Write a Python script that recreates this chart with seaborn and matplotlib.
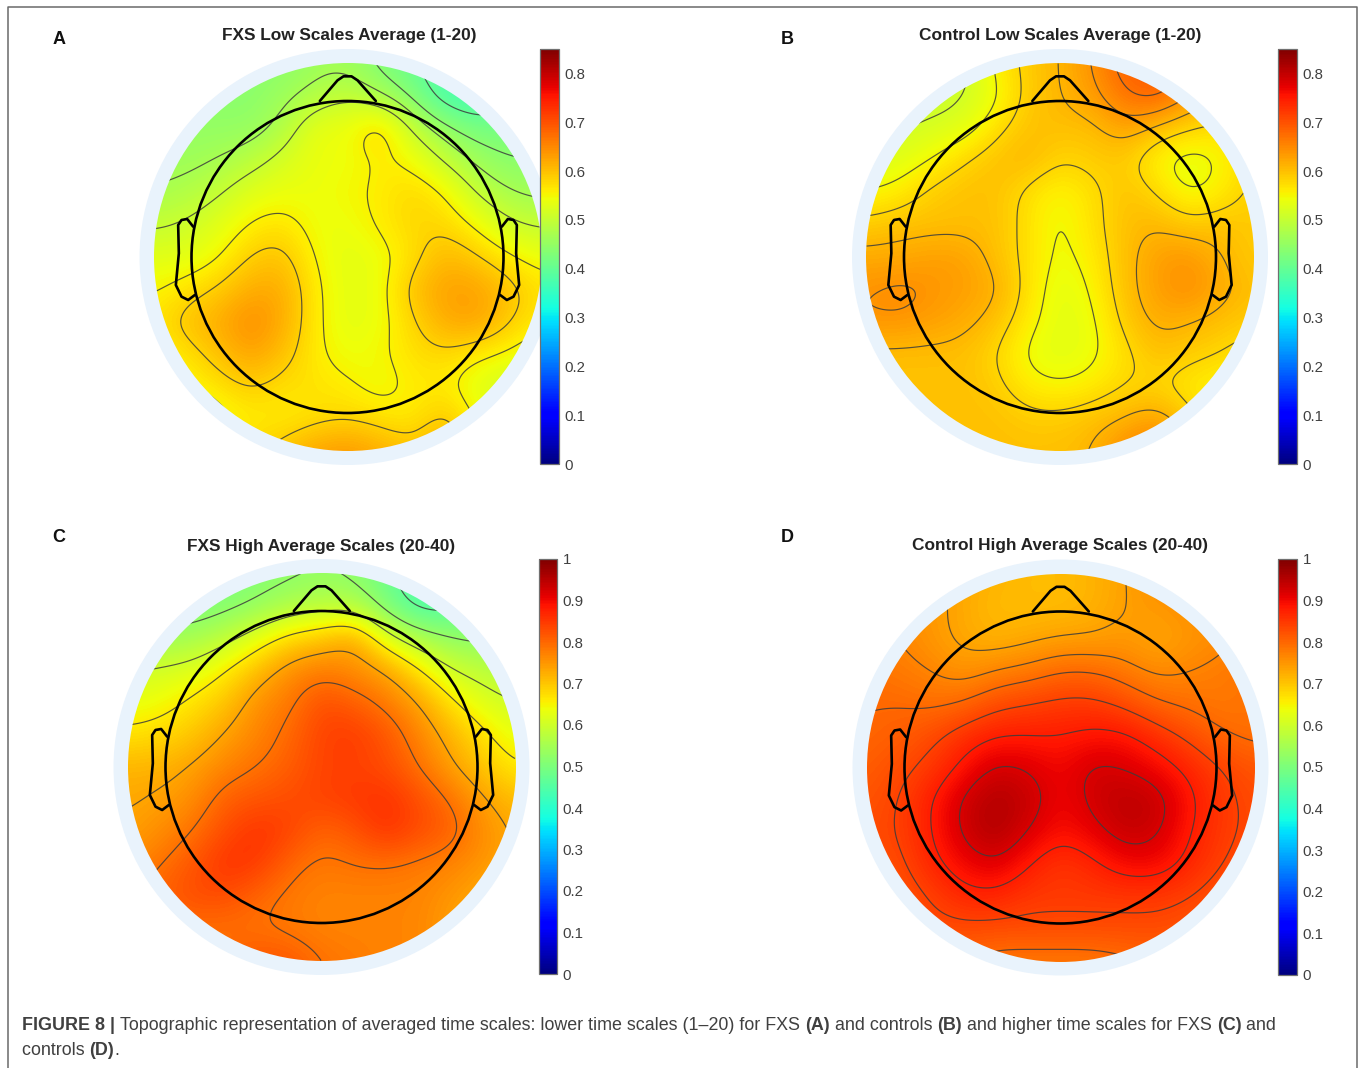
import numpy as np
import matplotlib
matplotlib.use("Agg")
import matplotlib.pyplot as plt
from matplotlib.patches import Circle
import seaborn as sns

# Scalp values on a 13 x 13 grid, top row first
fxs_low = [
 [.44,.44,.44,.44,.44,.46,.46,.43,.40,.38,.38,.38,.38],
 [.44,.44,.44,.44,.46,.48,.50,.47,.43,.37,.36,.38,.38],
 [.45,.45,.45,.45,.48,.54,.54,.59,.50,.45,.42,.42,.42],
 [.46,.46,.47,.49,.52,.54,.54,.56,.55,.50,.46,.44,.44],
 [.47,.48,.50,.53,.54,.54,.55,.56,.58,.56,.50,.47,.46],
 [.50,.51,.53,.56,.57,.54,.54,.56,.58,.58,.55,.51,.50],
 [.53,.53,.55,.59,.60,.55,.53,.54,.57,.61,.59,.56,.54],
 [.55,.57,.59,.62,.62,.56,.53,.54,.60,.63,.63,.60,.57],
 [.57,.60,.62,.65,.62,.56,.53,.54,.58,.62,.63,.59,.56],
 [.55,.57,.60,.63,.60,.56,.54,.55,.57,.58,.56,.55,.53],
 [.53,.55,.57,.59,.57,.57,.56,.54,.56,.56,.53,.51,.50],
 [.51,.51,.54,.56,.56,.57,.58,.57,.56,.60,.55,.52,.51],
 [.53,.55,.56,.58,.60,.63,.64,.62,.60,.62,.57,.53,.51]]
control_low = [
 [.50,.50,.50,.50,.56,.59,.61,.64,.69,.69,.69,.69,.69],
 [.50,.50,.50,.51,.54,.59,.61,.63,.67,.69,.64,.61,.60],
 [.51,.51,.52,.53,.57,.60,.60,.60,.63,.60,.58,.57,.57],
 [.52,.53,.55,.58,.60,.61,.58,.59,.59,.55,.53,.55,.58],
 [.55,.56,.59,.60,.60,.57,.55,.57,.60,.58,.54,.56,.59],
 [.59,.60,.60,.60,.60,.57,.54,.57,.60,.61,.59,.60,.59],
 [.62,.62,.63,.63,.60,.57,.54,.56,.60,.63,.64,.61,.59],
 [.64,.65,.64,.63,.62,.57,.53,.55,.60,.63,.65,.62,.60],
 [.64,.64,.63,.62,.60,.56,.53,.54,.59,.62,.61,.60,.59],
 [.60,.60,.60,.60,.58,.54,.53,.54,.57,.60,.59,.58,.56],
 [.60,.60,.60,.60,.59,.56,.55,.56,.58,.58,.56,.55,.55],
 [.60,.60,.60,.60,.60,.59,.59,.60,.61,.63,.59,.56,.56],
 [.60,.60,.60,.60,.60,.60,.60,.61,.65,.67,.61,.57,.56]]
fxs_high = [
 [.50,.50,.50,.50,.51,.52,.53,.52,.48,.44,.44,.44,.44],
 [.50,.50,.50,.51,.53,.56,.57,.57,.50,.44,.45,.46,.47],
 [.54,.54,.55,.58,.63,.68,.70,.74,.62,.56,.53,.52,.52],
 [.60,.61,.62,.66,.71,.76,.78,.76,.74,.67,.60,.58,.56],
 [.63,.64,.67,.70,.76,.78,.83,.81,.78,.74,.67,.62,.60],
 [.67,.68,.70,.74,.77,.80,.84,.85,.82,.77,.72,.67,.63],
 [.72,.72,.74,.77,.79,.81,.84,.84,.83,.79,.74,.70,.66],
 [.73,.74,.76,.81,.82,.83,.84,.85,.86,.83,.79,.74,.71],
 [.74,.76,.79,.83,.86,.84,.80,.82,.86,.83,.81,.76,.73],
 [.76,.79,.82,.86,.85,.80,.78,.79,.79,.78,.77,.75,.73],
 [.79,.81,.83,.83,.80,.78,.77,.77,.77,.77,.75,.73,.70],
 [.79,.79,.79,.79,.79,.78,.77,.77,.77,.77,.74,.71,.69],
 [.79,.79,.79,.80,.82,.82,.79,.78,.77,.77,.74,.71,.69]]
control_high = [
 [.75,.75,.75,.73,.72,.71,.71,.72,.74,.76,.76,.76,.76],
 [.76,.76,.75,.73,.71,.71,.71,.72,.74,.75,.76,.76,.77],
 [.78,.77,.75,.73,.72,.73,.74,.74,.75,.73,.75,.76,.78],
 [.79,.78,.77,.75,.77,.78,.80,.80,.78,.76,.77,.78,.79],
 [.80,.80,.79,.80,.83,.84,.85,.85,.83,.80,.79,.78,.79],
 [.80,.81,.83,.86,.88,.88,.88,.89,.89,.86,.83,.80,.79],
 [.81,.83,.85,.89,.93,.92,.90,.93,.92,.90,.87,.84,.82],
 [.82,.84,.88,.93,.96,.94,.90,.93,.95,.94,.89,.85,.83],
 [.83,.84,.88,.93,.96,.92,.89,.91,.94,.93,.88,.85,.83],
 [.82,.83,.87,.90,.92,.88,.85,.87,.90,.90,.87,.84,.82],
 [.81,.82,.84,.87,.87,.85,.85,.85,.85,.85,.84,.82,.81],
 [.81,.82,.83,.83,.83,.83,.83,.83,.83,.83,.82,.81,.80],
 [.79,.80,.80,.80,.78,.78,.78,.78,.79,.80,.80,.80,.79]]

titles = ["FXS Low Scales Average (1-20)", "Control Low Scales Average (1-20)",
          "FXS High Average Scales (20-40)", "Control High Average Scales (20-40)"]
letters = ["A", "B", "C", "D"]
grids = [fxs_low, control_low, fxs_high, control_high]
levels = [[.40,.44,.47,.505,.555,.585], [.515,.55,.58,.61,.64,.67],
          [.47,.53,.60,.66,.735,.79], [.74,.77,.80,.84,.88,.92]]
vmaxs = [.85, .85, 1, 1]
ticks_low = [0,.1,.2,.3,.4,.5,.6,.7,.8]
ticks_high = [0,.1,.2,.3,.4,.5,.6,.7,.8,.9,1]
tick_sets = [ticks_low, ticks_low, ticks_high, ticks_high]

# layout in reference pixels
W, H = 1360, 1068
centers = [(347.5,257), (1060,257), (321.5,767), (1060.5,767.5)]
cbars = [(540,49,559,464), (1278,49,1297,464), (539,559,557,974), (1278,559,1297,975)]
title_xy = [(349,35.5), (1060,35.5), (321.5,546.5), (1060,545.5)]
letter_xy = [(59,39), (787,39), (59,537), (787,537)]
R_MAP, R_RING, R_HEAD = 194, 208, 156
nose = [(-83,-468),(-30,-530),(-12,-542),(12,-542),(30,-530),(85,-468)]
ear = [(-463,-91),(-481,-114),(-498,-111),(-508,-96),(-506,-11),(-515,84),(-498,119),(-478,129),(-458,114)]
GREY = "#404040"

sns.set_style("white")
plt.rcParams["font.family"] = ["Liberation Sans", "DejaVu Sans"]
fig = plt.figure(figsize=(W/100, H/100), dpi=100, facecolor="white")

def box(x0, y0, x1, y1):
    return [x0/W, 1-y1/H, (x1-x0)/W, (y1-y0)/H]

back = fig.add_axes([0,0,1,1], zorder=0); back.set_xlim(0,W); back.set_ylim(H,0); back.axis("off")
top = fig.add_axes([0,0,1,1], zorder=3); top.set_xlim(0,W); top.set_ylim(H,0); top.axis("off"); top.patch.set_alpha(0)

def bspline_weights(n, size):
    t = np.linspace(0, size-1, n)
    w = np.zeros((n, size))
    for k, p in enumerate(t):
        i = min(int(p), size-2); f = p-i
        c = [(1-f)**3/6, (3*f**3-6*f**2+4)/6, (-3*f**3+3*f**2+3*f+1)/6, f**3/6]
        for j, v in zip(range(i-1, i+3), c):
            w[k, min(max(j,0), size-1)] += v
    return w

for i in range(4):
    cx, cy = centers[i]
    back.add_patch(Circle((cx,cy), R_RING, fc="#e9f3fc", ec="none"))
    values = np.array(grids[i])
    n = 2*R_MAP
    w = bspline_weights(n, values.shape[0])
    Z = w @ values @ w.T

    ax = fig.add_axes(box(cx-R_MAP, cy-R_MAP, cx+R_MAP, cy+R_MAP), zorder=1)
    cax = fig.add_axes(box(*cbars[i]), zorder=4)
    sns.heatmap(Z, vmin=0, vmax=vmaxs[i], cmap="jet", ax=ax, cbar=True, cbar_ax=cax,
                xticklabels=False, yticklabels=False, cbar_kws={"ticks": tick_sets[i]})
    mesh = ax.collections[0]
    mesh.set_clip_path(Circle((n/2,n/2), n/2, transform=ax.transData))
    grid = np.arange(n)+.5
    cs = ax.contour(grid, grid, Z, levels=levels[i], colors="#3c3c3c", linewidths=.85, alpha=.85)
    cs.set_clip_path(Circle((n/2,n/2), n/2, transform=ax.transData))
    ax.axis("off")

    cb = mesh.colorbar
    cb.outline.set_visible(True); cb.outline.set_linewidth(.9); cb.outline.set_edgecolor("#707070")
    cb.set_ticklabels([f"{t:g}" for t in tick_sets[i]])
    cax.tick_params(axis="y", direction="in", length=3, width=.7, color="#222222",
                    labelcolor=GREY, labelsize=10.8, pad=4, right=True, left=False)

    # head, nose and ears
    s = 1/3
    top.add_patch(Circle((cx,cy), R_HEAD, fc="none", ec="black", lw=1.9))
    top.plot([cx+a*s for a,b in nose], [cy+b*s for a,b in nose], color="black", lw=1.9, solid_joinstyle="round")
    for side in (1,-1):
        top.plot([cx+side*a*s for a,b in ear], [cy+b*s for a,b in ear], color="black", lw=1.9, solid_joinstyle="round")

    top.text(*title_xy[i], titles[i], ha="center", va="center", fontsize=12.4, fontweight="bold", color="#222222")
    top.text(*letter_xy[i], letters[i], ha="center", va="center", fontsize=13, fontweight="bold", color="#111111")

# frame, open at the bottom
top.plot([8,8,1356.5,1356.5],[H,7,7,H], color="#6a6a6a", lw=1.1, clip_on=False)

# caption
caption = [
 [("FIGURE 8 | ","bold"),("Topographic representation of averaged time scales: lower time scales (1\u201320) for FXS ","normal"),
  ("(A)","bold"),(" and controls ","normal"),("(B)","bold"),(" and higher time scales for FXS ","normal"),("(C)","bold"),(" and","normal")],
 [("controls ","normal"),("(D)","bold"),(".","normal")]]
CAP = 12.88
fig.canvas.draw()
rend = fig.canvas.get_renderer()
for line, y in zip(caption, (1030, 1055)):
    x = 22
    for piece, weight in line:
        t = top.text(x, y, piece, fontsize=CAP, fontweight=weight, color=GREY, ha="left", va="baseline")
        # measure with a guard character so that trailing spaces count
        g = top.text(0, 0, piece+"|", fontsize=CAP, fontweight=weight)
        b = top.text(0, 0, "|", fontsize=CAP, fontweight=weight)
        x += g.get_window_extent(rend).width - b.get_window_extent(rend).width
        g.remove(); b.remove()

fig.savefig("out.png", dpi=100, facecolor="white")
